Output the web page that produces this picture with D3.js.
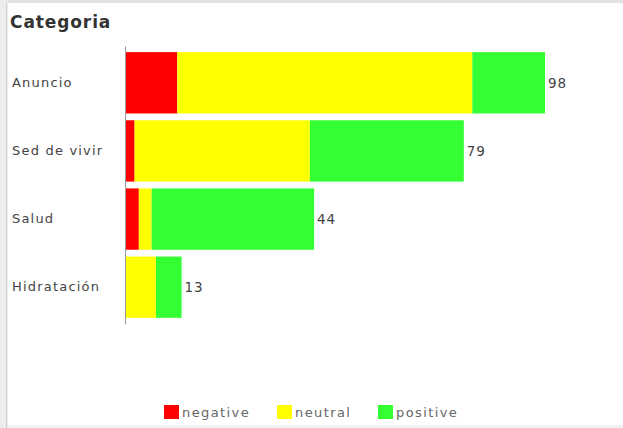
<!DOCTYPE html>
<html>
<head>
<meta charset="utf-8">
<script src="https://cdn.jsdelivr.net/npm/d3@7"></script>
<style>
  body { margin: 0; background: #fff; }
  svg { display: block; }
</style>
</head>
<body>
<div id="chart"></div>
<script>
// data
const categories = ["Anuncio", "Sed de vivir", "Salud", "Hidratación"];
const negative = [12, 2, 3, 0];
const neutral = [69, 41, 3, 7];
const positive = [17, 36, 38, 6];
const seriesNames = ["negative", "neutral", "positive"];
const seriesColors = ["#ff0000", "#ffff00", "#33ff33"];

const width = 623, height = 428;

const svg = d3.select("#chart").append("svg")
  .attr("width", width)
  .attr("height", height)
  .style("font-family", "'DejaVu Sans', sans-serif");

/* panel frame */
svg.append("rect").attr("x", 0).attr("y", 0).attr("width", width).attr("height", 3).attr("fill", "#e2e2e2");
svg.append("rect").attr("x", 0).attr("y", 0).attr("width", 8).attr("height", height).attr("fill", "#ededed");
svg.append("rect").attr("x", 6).attr("y", 3).attr("width", 1).attr("height", height).attr("fill", "#d0d0d0");
svg.append("rect").attr("x", 8).attr("y", 425).attr("width", width).attr("height", 3).attr("fill", "#f2f2f2");

svg.append("text")
  .attr("x", 10).attr("y", 28)
  .attr("font-size", 17).attr("font-weight", "bold")
  .attr("letter-spacing", 0.9)
  .attr("fill", "#333")
  .text("Categoria");

const rows = categories.map((c, i) => ({
  cat: c,
  negative: negative[i],
  neutral: neutral[i],
  positive: positive[i]
}));

const stack = d3.stack().keys(seriesNames)(rows);

const x = d3.scaleLinear()
  .domain([0, d3.max(rows, d => d.negative + d.neutral + d.positive)])
  .range([126, 545]);

const y = d3.scaleBand()
  .domain(categories)
  .range([46, 324])
  .paddingInner(0.1)
  .paddingOuter(0.09);

const color = d3.scaleOrdinal().domain(seriesNames).range(seriesColors);

svg.selectAll("g.series")
  .data(stack)
  .enter().append("g")
  .attr("class", "series")
  .attr("fill", d => color(d.key))
  .selectAll("rect")
  .data(d => d)
  .enter().append("rect")
  .attr("x", d => x(d[0]))
  .attr("y", d => y(d.data.cat))
  .attr("width", d => x(d[1]) - x(d[0]))
  .attr("height", y.bandwidth());

// y axis: line plus category labels
const yAxis = d3.axisLeft(y).tickSize(0).tickPadding(0);
const gy = svg.append("g")
  .attr("transform", "translate(125,0)")
  .call(yAxis);
gy.select(".domain").attr("stroke", "#999");
gy.selectAll(".tick text")
  .attr("x", -113)
  .attr("text-anchor", "start")
  .attr("font-size", 13)
  .attr("letter-spacing", 1.2)
  .attr("fill", "#444")
  .style("font-family", "'DejaVu Sans', sans-serif");

// totals at bar ends
svg.selectAll("text.total")
  .data(rows)
  .enter().append("text")
  .attr("class", "total")
  .attr("x", d => x(d.negative + d.neutral + d.positive) + 3)
  .attr("y", d => y(d.cat) + y.bandwidth() / 2)
  .attr("dy", "0.35em")
  .attr("font-size", 13.5)
  .attr("letter-spacing", 0.8)
  .attr("fill", "#444")
  .text(d => d.negative + d.neutral + d.positive);

/* legend */
const legendX = [164, 277, 378];
const lg = svg.selectAll("g.legend")
  .data(seriesNames)
  .enter().append("g")
  .attr("class", "legend")
  .attr("transform", (d, i) => `translate(${legendX[i]},405)`);
lg.append("rect")
  .attr("width", 15).attr("height", 14)
  .attr("fill", d => color(d));
lg.append("text")
  .attr("x", 18).attr("y", 12)
  .attr("font-size", 13)
  .attr("letter-spacing", 1.4)
  .attr("fill", "#666")
  .text(d => d);
</script>
</body>
</html>
